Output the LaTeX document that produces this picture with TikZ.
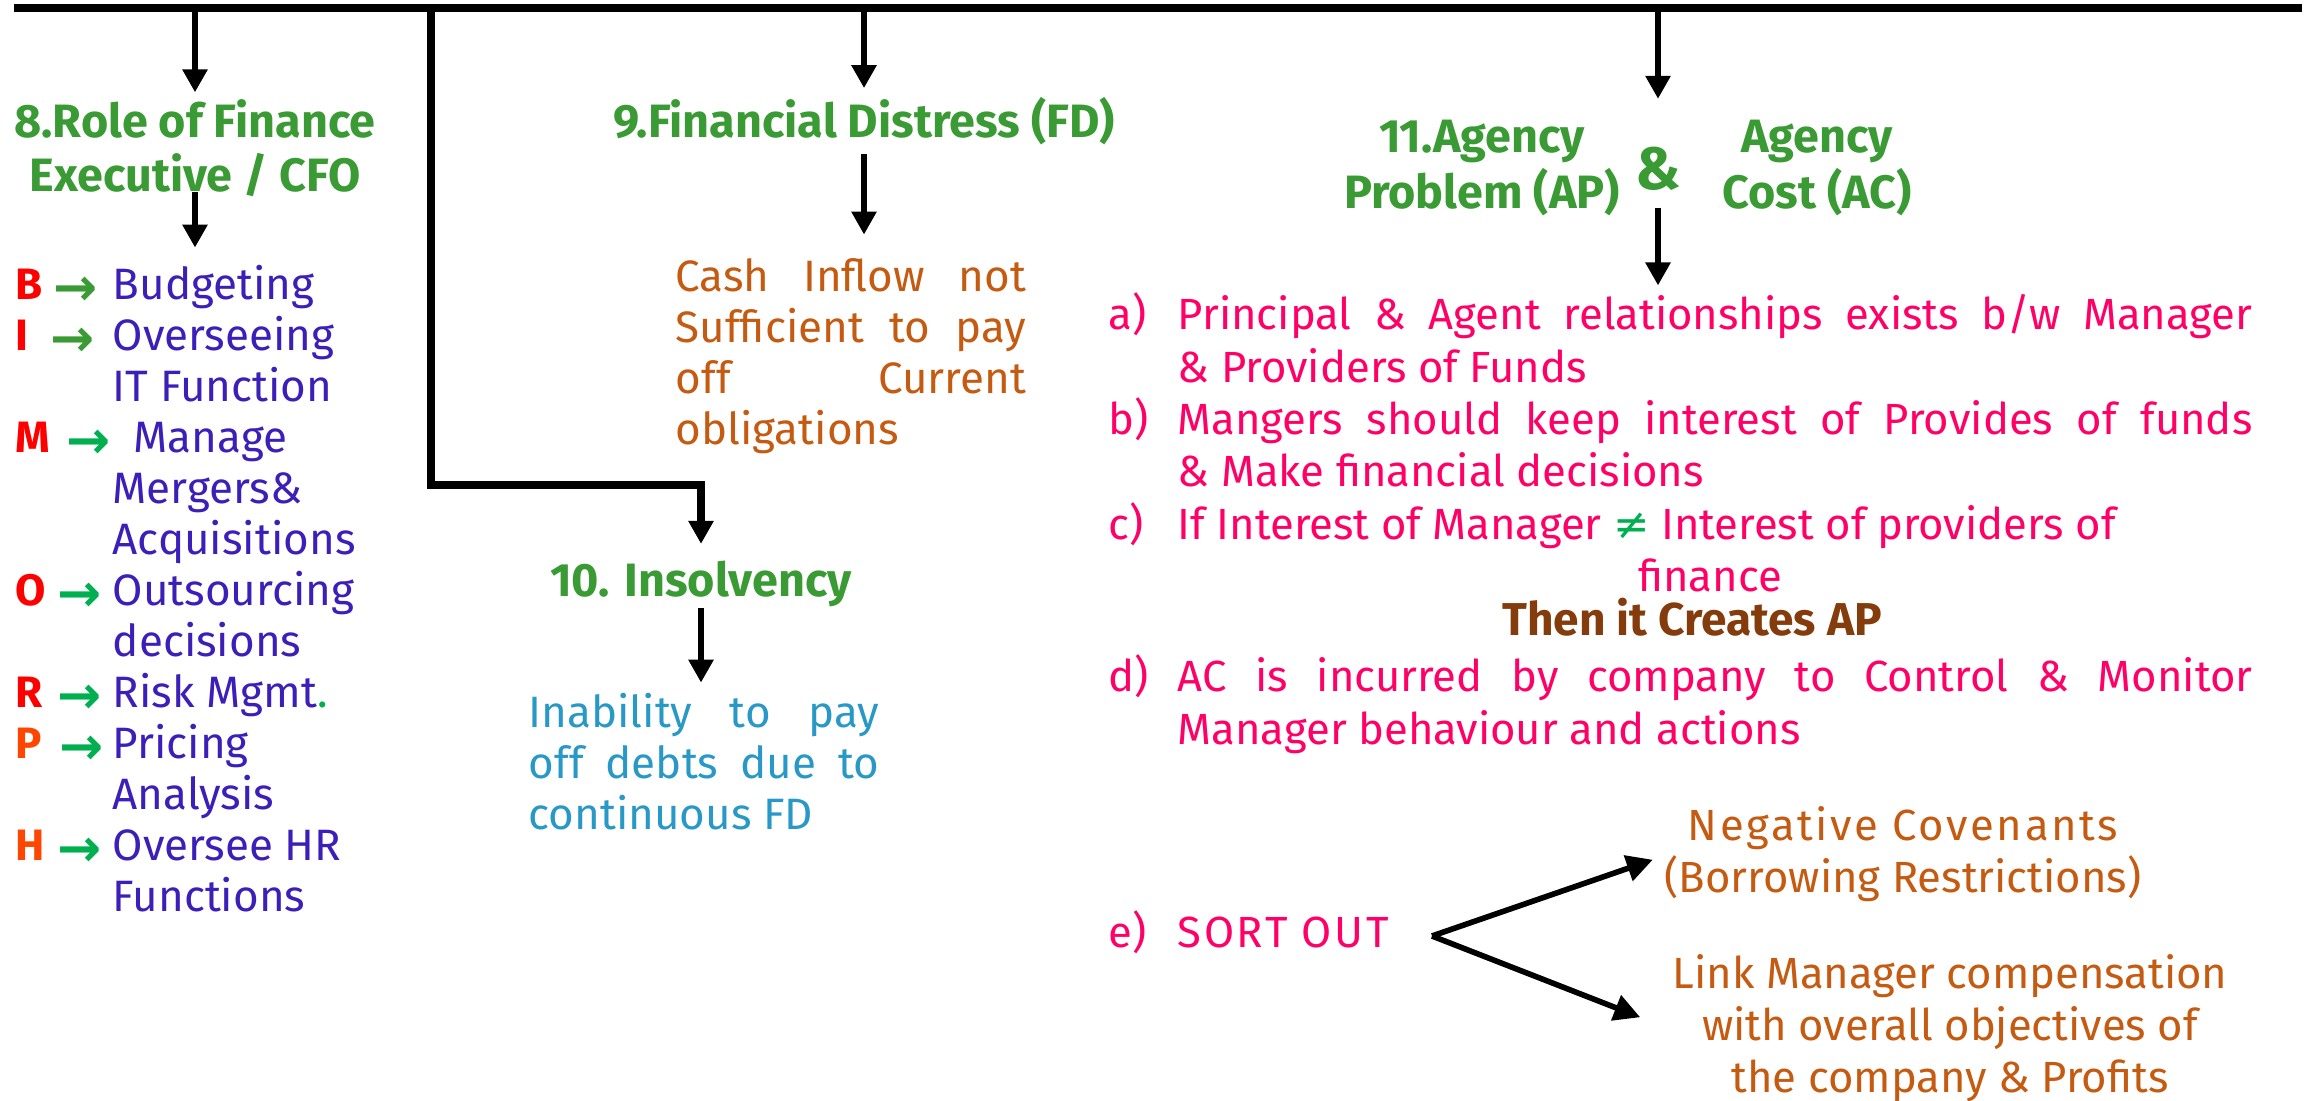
\documentclass[tikz,border=0pt]{standalone}
\usepackage{fontspec}
\setmainfont{Fira Sans}
\newfontfamily\symfont{DejaVu Sans}
\usetikzlibrary{arrows.meta,calc}

\definecolor{headgreen}{RGB}{58,155,53}
\definecolor{brightgreen}{RGB}{0,176,80}
\definecolor{keyred}{RGB}{255,0,0}
\definecolor{keyorange}{RGB}{255,69,0}
\definecolor{roleblue}{RGB}{60,30,185}
\definecolor{rust}{RGB}{197,90,17}
\definecolor{tealblue}{RGB}{40,152,198}
\definecolor{hotpink}{RGB}{255,0,102}
\definecolor{darkbrown}{RGB}{132,60,12}

% multi-line block whose baseline is that of its first line
\newcommand\ml[2][c]{\begin{tabular}[t]{@{}#1@{}}#2\end{tabular}}
% a line stretched to a fixed width (justified)
\newcommand\jl[2]{\hbox to #1{\spaceskip=0.28em plus 1fil minus 0.08em\relax #2}}
% key letter followed by a coloured arrow glyph
\newcommand\keyl[4][0cm]{\makebox[0.35cm][l]{\textcolor{#2}{\bfseries #3}}%
  \makebox[0.62cm][l]{\hspace*{#1}\raisebox{-1.5pt}{\color{#4}\fontsize{15}{15}\symfont\bfseries →}}}
\newcommand\cont{\hspace*{0.97cm}}

\tikzset{
  txt/.style={inner sep=0pt, font={\fontsize{12.5}{14.5}\selectfont}},
  rtxt/.style={inner sep=0pt, font={\fontsize{12.4}{14.8}\selectfont}},
  head/.style={inner sep=0pt, text=headgreen, font={\fontsize{13.3}{14.8}\selectfont\bfseries}},
  rail/.style={line width=2pt},
  conn/.style={line width=1.8pt, -{Triangle[width=0.24cm,length=0.23cm]}},
  fork/.style={line width=1.6pt, -{Triangle[width=0.26cm,length=0.26cm]}},
}

\begin{document}
\begin{tikzpicture}[x=0.01cm,y=-0.01cm]
\useasboundingbox (0,0) rectangle (2307,1101);

% top rail
\coordinate (railL) at (14,8);
\coordinate (railR) at (2302,8);
\coordinate (tj) at (431,8);
\draw[rail] (railL) -- (railR);

% 8. Role of finance executive
\node[head, anchor=base] (t8) at (195,138) {\ml{8.Role of Finance\\Executive / CFO}};
\node[txt, text=roleblue, anchor=base west] (roles) at (15,300) {\ml[l]{%
\keyl[0.03cm]{keyred}{B}{headgreen}Budgeting\\
\keyl{keyred}{I}{headgreen}Overseeing\\
\cont IT Function\\
\keyl[0.16cm]{keyred}{M}{brightgreen}\hspace*{0.21cm}Manage\\
\cont Mergers\&\\
\cont Acquisitions\\
\keyl[0.07cm]{keyred}{O}{brightgreen}Outsourcing\\
\cont decisions\\
\keyl[0.07cm]{keyred}{R}{brightgreen}Risk Mgmt\textcolor{brightgreen}{.}\\
\keyl[0.09cm]{keyorange}{P}{brightgreen}Pricing\\
\cont Analysis\\
\keyl[0.07cm]{keyorange}{H}{brightgreen}Oversee HR\\
\cont Functions}};
\draw[conn, shorten >=0.07cm] (t8.north |- railL) -- (t8.north);
\draw[conn, shorten <=-0.16cm, shorten >=0.16cm] (t8.south) -- (t8.south |- roles.north);

% 9. Financial distress
\node[head, anchor=base] (t9) at (864,138) {\ml{9.Financial Distress (FD)}};
\node[txt, text=rust, anchor=base west] (cash) at (675,292) {\ml[l]{%
\jl{3.5cm}{Cash Inflow not}\\
\jl{3.5cm}{Sufficient to pay}\\
\jl{3.5cm}{off Current}\\
obligations}};
\draw[conn, shorten >=0.09cm] (t9.north |- railL) -- (t9.north);
\draw[conn, shorten >=0.21cm] (t9.south) -- (t9.south |- cash.north);

% 10. Insolvency
\coordinate (bend) at (431,485);
\node[head, anchor=base] (t10) at (701,597) {\ml{10. Insolvency}};
\node[txt, text=tealblue, anchor=base west] (inab) at (528,728) {\ml[l]{%
\jl{3.5cm}{Inability to pay}\\
\jl{3.5cm}{off debts due to}\\
continuous FD}};
\draw[conn, line width=2pt, shorten >=0.16cm] (tj) -- (bend) -| (t10.north);
\draw[conn, shorten <=-0.05cm, shorten >=0.09cm] (t10.south) -- (t10.south |- inab.north);

% 11. Agency problem & agency cost
\node[head, anchor=base] (t11a) at (1482,153) {\ml{11.Agency\\Problem (AP)}};
\node[head, anchor=base, font={\fontsize{17}{20}\selectfont\bfseries}] (amp) at (1658,190) {\&};
\node[head, anchor=base] (t11b) at (1817,153) {\ml{Agency\\Cost (AC)}};
\draw[conn, shorten >=0.48cm] (amp.north |- railL) -- (amp.north);

\node[rtxt, text=hotpink, anchor=base west] (plist) at (1108,330) {%
\begin{tabular}[t]{@{}p{0.69cm}@{}l@{}}
a) & \jl{10.74cm}{Principal \& Agent relationships exists b/w Manager}\\
 & \& Providers of Funds\\
b) & \jl{10.74cm}{Mangers should keep interest of Provides of funds}\\
 & \& Make financial decisions\\
c) & If Interest of Manager {\color{brightgreen}\symfont ≠} Interest of providers of\\
 & \makebox[10.64cm]{finance}
\end{tabular}};
\draw[conn, shorten <=0.16cm, shorten >=0.07cm] (amp.south) -- (amp.south |- plist.north);

\node[rtxt, text=darkbrown, anchor=base, font={\fontsize{13.1}{14.8}\selectfont\bfseries}] (creates) at (1692,636) {Then it Creates AP};

\node[rtxt, text=hotpink, anchor=base west] (dlist) at (1108,692) {%
\begin{tabular}[t]{@{}p{0.69cm}@{}l@{}}
d) & \jl{10.74cm}{AC is incurred by company to Control \& Monitor}\\
 & Manager behaviour and actions
\end{tabular}};

% e) sort out
\node[rtxt, text=hotpink, anchor=base west] (sort) at (1108,947) {%
\begin{tabular}[t]{@{}p{0.69cm}@{}l@{}}
e) & {\addfontfeature{LetterSpace=6}SORT OUT}
\end{tabular}};
\coordinate (forkpt) at (1432,936);
\node[rtxt, text=rust, anchor=base] (neg) at (1903,840) {\ml{{\addfontfeature{LetterSpace=6}Negative Covenants}\\(Borrowing Restrictions)}};
\node[rtxt, text=rust, anchor=base] (link) at (1950,988) {\ml{Link Manager compensation\\with overall objectives of\\the company \& Profits}};
\draw[fork, shorten >=0.12cm] (forkpt) -- (neg.west);
\draw[fork, shorten >=0.34cm] (forkpt) -- (link.west);
\end{tikzpicture}
\end{document}
